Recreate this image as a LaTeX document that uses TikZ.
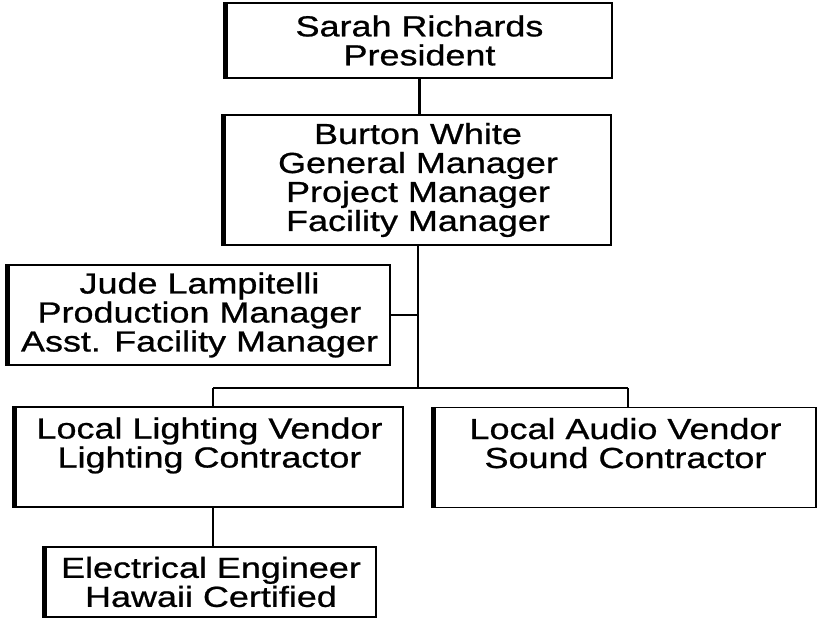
\documentclass[tikz,border=0pt]{standalone}
\usepackage{fontspec}
\newfontfamily\orgfont{Liberation Sans}[FakeStretch=1.24,FakeBold=0.8]
\begin{document}
\begin{tikzpicture}[x=1pt,y=-1pt,
  box/.style={draw, line width=1.5pt, rectangle, inner sep=0pt, align=center,
    font=\orgfont\fontsize{29}{29}\selectfont},
  link/.style={line width=2.4pt},
  leftbar/.style={line width=4pt}]
\useasboundingbox (0,0) rectangle (818,620);
\fill[white] (0,0) rectangle (818,620);
\node[box, minimum width=385pt, minimum height=75pt] (sarah) at (419.5,40.5) {Sarah Richards\\President};
\node[box, minimum width=386pt, minimum height=130pt] (burton) at (418,180) {Burton White\\General Manager\\Project Manager\\Facility Manager};
\node[box, minimum width=381pt, minimum height=100pt] (jude) at (199.5,315) {Jude Lampitelli\\Production Manager\\Asst. Facility Manager};
\node[box, minimum width=387pt, minimum height=100pt] (light) at (209.5,457) {Local Lighting Vendor\\Lighting Contractor\\\mbox{}};
\node[box, minimum width=381pt, minimum height=100pt] (audio) at (625.5,457.5) {Local Audio Vendor\\Sound Contractor\\\mbox{}};
\node[box, minimum width=330pt, minimum height=70pt] (elec) at (211,582) {Electrical Engineer\\Hawaii Certified};
\coordinate (busL) at (213,388);
\coordinate (busR) at (628,388);
\draw[link] (sarah.south) -- (sarah.south |- burton.north);
\draw[link] (burton.south) -- (burton.south |- busL);
\draw[link] (jude.east) -- (jude.east -| burton.south);
\draw[link] (busL) -- (busR);
\draw[link] (busL) -- (busL |- light.north);
\draw[link] (busR) -- (busR |- audio.north);
\draw[link] (busL |- light.south) -- (busL |- elec.north);
\foreach \n in {sarah,burton,jude,light,audio,elec}
  \draw[leftbar] ([xshift=-1.5pt]\n.north west) -- ([xshift=-1.5pt]\n.south west);
\end{tikzpicture}
\end{document}
